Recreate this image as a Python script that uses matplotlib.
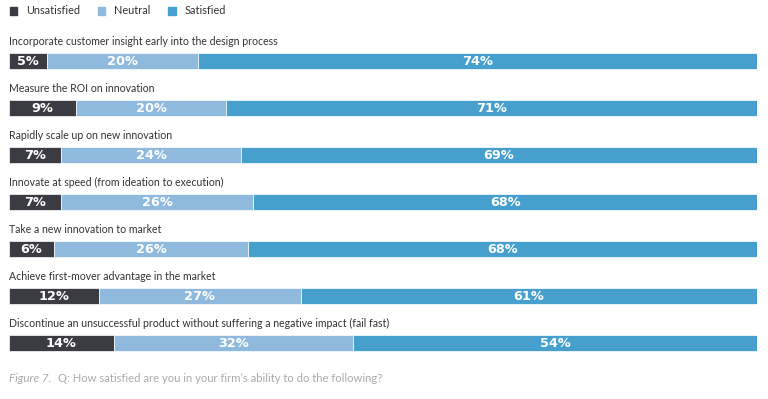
import matplotlib.pyplot as plt
from matplotlib.patches import Patch

plt.rcParams['font.family'] = ['Lato', 'DejaVu Sans']

# Dane z wykresu
tasks = [
    "Incorporate customer insight early into the design process",
    "Measure the ROI on innovation",
    "Rapidly scale up on new innovation",
    "Innovate at speed (from ideation to execution)",
    "Take a new innovation to market",
    "Achieve first-mover advantage in the market",
    "Discontinue an unsuccessful product without suffering a negative impact (fail fast)",
]
unsatisfied = [5, 9, 7, 7, 6, 12, 14]
neutral = [20, 20, 24, 26, 26, 27, 32]
satisfied = [74, 71, 69, 68, 68, 61, 54]

series_names = ["Unsatisfied", "Neutral", "Satisfied"]
colors = ["#3b3b43", "#8fbadd", "#469fcc"]

W, H = 768, 399
fig = plt.figure(figsize=(W / 100, H / 100), dpi=100)
ax = fig.add_axes([9 / W, 1 - 366.5 / H, 748 / W, 329 / H])

for i, task in enumerate(tasks):
    vals = [unsatisfied[i], neutral[i], satisfied[i]]
    total = sum(vals)
    left = 0
    for v, c in zip(vals, colors):
        w = v / total * 100
        ax.barh(i, w, left=left, height=0.36, color=c, edgecolor="white", linewidth=0.5)
        ax.text(left + w / 2, i + 0.02, f"{v}%", ha="center", va="center",
                color="white", fontsize=9.3, fontweight="bold", family="DejaVu Sans")
        left += w
    ax.text(0, i - 0.42, task, ha="left", va="center", fontsize=7.6, color="#333333")

ax.set_xlim(0, 100)
ax.set_ylim(6.5, -0.5)
ax.axis("off")

# Legenda
handles = [Patch(color=c, label=n) for c, n in zip(colors, series_names)]
fig.legend(handles=handles, loc="center left", bbox_to_anchor=(0 / W, 1 - 11 / H),
           ncol=3, frameon=False, fontsize=7.8, handlelength=0.7, handleheight=0.7,
           columnspacing=1.65, handletextpad=0.8, labelcolor="#333333")

# Podpis
fig.text(9 / W, 1 - 379 / H, "Figure 7.", fontsize=8.4, style="italic",
         color="#aaaaaa", va="center")
fig.text(58 / W, 1 - 379 / H, "Q: How satisfied are you in your firm\u2019s ability to do the following?",
         fontsize=8.1, color="#aaaaaa", va="center")

fig.savefig("out.png", dpi=100)
